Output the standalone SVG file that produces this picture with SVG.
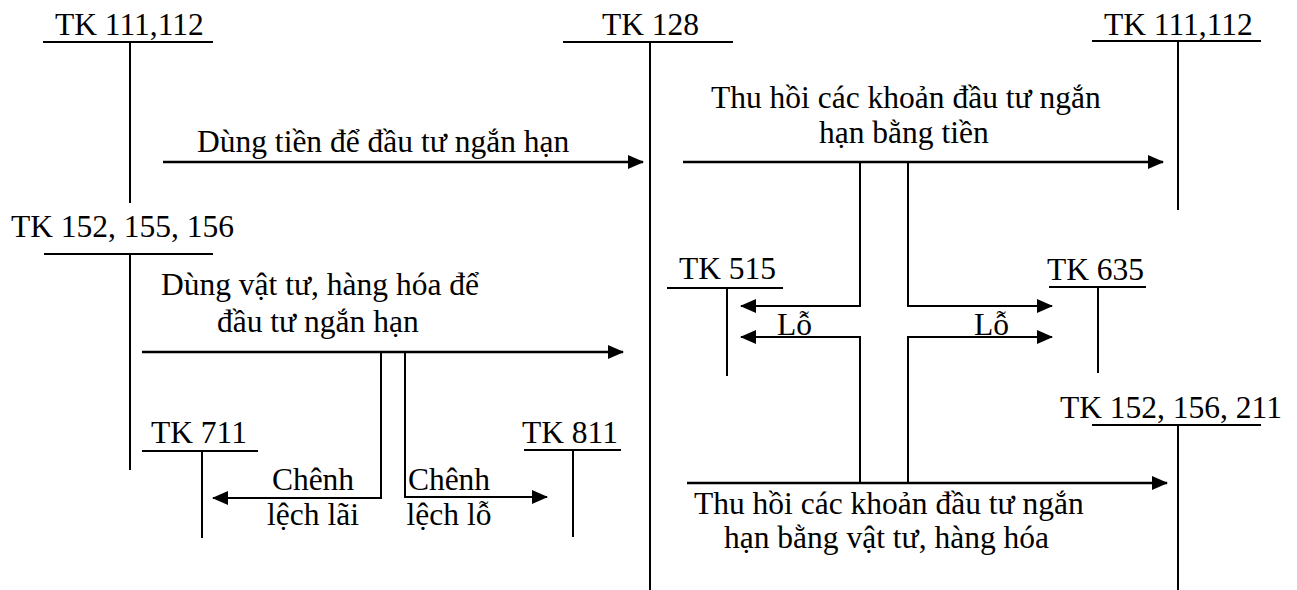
<svg xmlns="http://www.w3.org/2000/svg" width="1297" height="590" viewBox="0 0 1297 590">
<style>
text{font-family:"Liberation Serif","Times New Roman",serif;font-size:31.5px;fill:#000}
line,polyline{stroke:#000;stroke-width:2;fill:none}
.ar{stroke-width:2.5}
</style>
<defs>
<marker id="ah" markerUnits="userSpaceOnUse" markerWidth="16" markerHeight="16" viewBox="0 0 16 16" refX="15" refY="8" orient="auto">
<path d="M0,1 L16,8 L0,15 Z" fill="#000"/>
</marker>
</defs>
<rect width="1297" height="590" fill="#fff"/>
<g id="tk111-left">
<text x="55" y="35">TK 111,112</text>
<line x1="43" y1="42" x2="213" y2="42"/>
<line x1="130" y1="42" x2="130" y2="203"/>
</g>
<g id="tk128">
<text x="602" y="35">TK 128</text>
<line x1="563" y1="42" x2="733" y2="42"/>
<line x1="650" y1="42" x2="650" y2="590"/>
</g>
<g id="tk111-right">
<text x="1104" y="35">TK 111,112</text>
<line x1="1092" y1="41" x2="1261" y2="41"/>
<line x1="1178" y1="41" x2="1178" y2="210"/>
</g>
<g id="tk152-155-156">
<text x="11" y="237">TK 152, 155, 156</text>
<line x1="44" y1="254" x2="213" y2="254"/>
<line x1="130" y1="254" x2="130" y2="470"/>
</g>
<g id="tk711">
<text x="151" y="443">TK 711</text>
<line x1="142" y1="451" x2="258" y2="451"/>
<line x1="202" y1="451" x2="202" y2="538"/>
</g>
<g id="tk811">
<text x="522" y="443">TK 811</text>
<line x1="524" y1="450" x2="621" y2="450"/>
<line x1="573" y1="450" x2="573" y2="537"/>
</g>
<g id="tk515">
<text x="679" y="279">TK 515</text>
<line x1="667" y1="288" x2="783" y2="288"/>
<line x1="727" y1="288" x2="727" y2="376"/>
</g>
<g id="tk635">
<text x="1047" y="280">TK 635</text>
<line x1="1049" y1="287" x2="1146" y2="287"/>
<line x1="1098" y1="287" x2="1098" y2="373"/>
</g>
<g id="tk152-156-211">
<text x="1060" y="418">TK 152, 156, 211</text>
<line x1="1092" y1="425" x2="1261" y2="425"/>
<line x1="1178" y1="425" x2="1178" y2="590"/>
</g>
<g id="connectors">
<line class="ar" x1="163" y1="162" x2="643" y2="162" marker-end="url(#ah)"/>
<text x="197" y="152">Dùng tiền để đầu tư ngắn hạn</text>
<line class="ar" x1="142" y1="352" x2="623" y2="352" marker-end="url(#ah)"/>
<text x="161" y="295">Dùng vật tư, hàng hóa để</text>
<text x="217" y="332">đầu tư ngắn hạn</text>
<polyline points="381,352 381,498 213,498" marker-end="url(#ah)"/>
<polyline points="405,352 405,497 547,497" marker-end="url(#ah)"/>
<text x="313" y="490" text-anchor="middle">Chênh</text>
<text x="313" y="525" text-anchor="middle">lệch lãi</text>
<text x="449" y="490" text-anchor="middle">Chênh</text>
<text x="449" y="525" text-anchor="middle">lệch lỗ</text>
<line class="ar" x1="683" y1="162" x2="1163" y2="162" marker-end="url(#ah)"/>
<text x="711" y="108">Thu hồi các khoản đầu tư ngắn</text>
<text x="819" y="143">hạn bằng tiền</text>
<polyline points="860,162 860,306 741,306" marker-end="url(#ah)"/>
<polyline points="908,162 908,306 1052,306" marker-end="url(#ah)"/>
<polyline points="860,483 860,337 741,337" marker-end="url(#ah)"/>
<polyline points="908,483 908,337 1052,337" marker-end="url(#ah)"/>
<text x="777" y="335">Lỗ</text>
<text x="974" y="335">Lỗ</text>
<line class="ar" x1="687" y1="483" x2="1167" y2="483" marker-end="url(#ah)"/>
<text x="694" y="514">Thu hồi các khoản đầu tư ngắn</text>
<text x="724" y="548">hạn bằng vật tư, hàng hóa</text>
</g>
</svg>
